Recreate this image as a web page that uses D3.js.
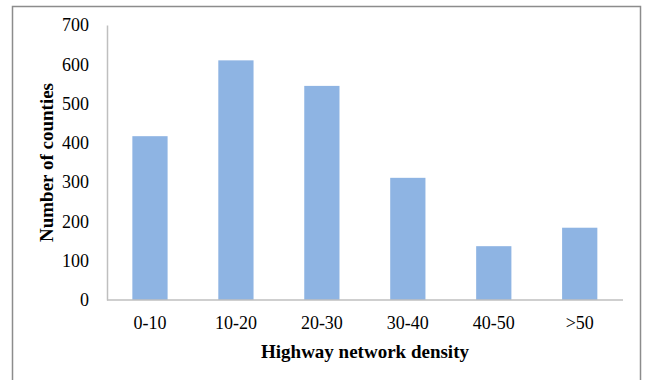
<!DOCTYPE html>
<html>
<head>
<meta charset="utf-8">
<script src="https://cdn.jsdelivr.net/npm/d3@7"></script>
<style>
  html, body { margin: 0; padding: 0; background: #fff; }
  svg { display: block; }
</style>
</head>
<body>
<script>
const categories = ["0-10", "10-20", "20-30", "30-40", "40-50", ">50"];
const counts = [417, 610, 545, 311, 137, 184];
const yTicks = [0, 100, 200, 300, 400, 500, 600, 700];
const xTitle = "Highway network density";
const yTitle = "Number of counties";

const W = 645, H = 380;
const margin = { left: 107, right: 22, top: 25, bottom: 80 };
const svg = d3.select("body").append("svg").attr("width", W).attr("height", H);

// outer frame
svg.append("rect")
  .attr("x", 12.5).attr("y", 6.5)
  .attr("width", 628).attr("height", 400)
  .attr("fill", "#fff").attr("stroke", "#8c8c8c").attr("stroke-width", 1.5);

const x = d3.scaleBand().domain(categories)
  .range([margin.left, W - margin.right - 0.3]).paddingInner(0.59).paddingOuter(0.295);
const y = d3.scaleLinear().domain([0, 700]).range([H - margin.bottom, margin.top]);

const font = "'Liberation Serif', 'Times New Roman', serif";

// bars
svg.append("g").selectAll("rect").data(counts).join("rect")
  .attr("x", (d, i) => x(categories[i]))
  .attr("y", d => y(d))
  .attr("width", x.bandwidth())
  .attr("height", d => y(0) - y(d))
  .attr("fill", "#8EB4E3");

// y axis
const yAxis = svg.append("g").attr("transform", `translate(${margin.left},0)`)
  .call(d3.axisLeft(y).tickValues(yTicks).tickSize(0).tickPadding(18));
yAxis.select(".domain").attr("stroke", "#bfbfbf").attr("stroke-width", 1.5);
yAxis.selectAll("text").attr("font-family", font).attr("font-size", 18).attr("fill", "#000");

// x axis
const xAxis = svg.append("g").attr("transform", `translate(0,${y(0)})`)
  .call(d3.axisBottom(x).tickSize(0).tickPadding(16));
xAxis.select(".domain").attr("stroke", "#bfbfbf").attr("stroke-width", 1.5)
  .attr("d", `M${margin.left},0H${W - margin.right}`);
xAxis.selectAll("text").attr("font-family", font).attr("font-size", 18).attr("fill", "#000");

// titles
svg.append("text")
  .attr("x", (margin.left + W - margin.right) / 2).attr("y", 358)
  .attr("text-anchor", "middle")
  .attr("font-family", font).attr("font-weight", "bold").attr("font-size", 19)
  .text(xTitle);

svg.append("text")
  .attr("transform", `translate(53,${(y(0) + y(700)) / 2}) rotate(-90)`)
  .attr("text-anchor", "middle")
  .attr("font-family", font).attr("font-weight", "bold").attr("font-size", 19)
  .text(yTitle);
</script>
</body>
</html>
